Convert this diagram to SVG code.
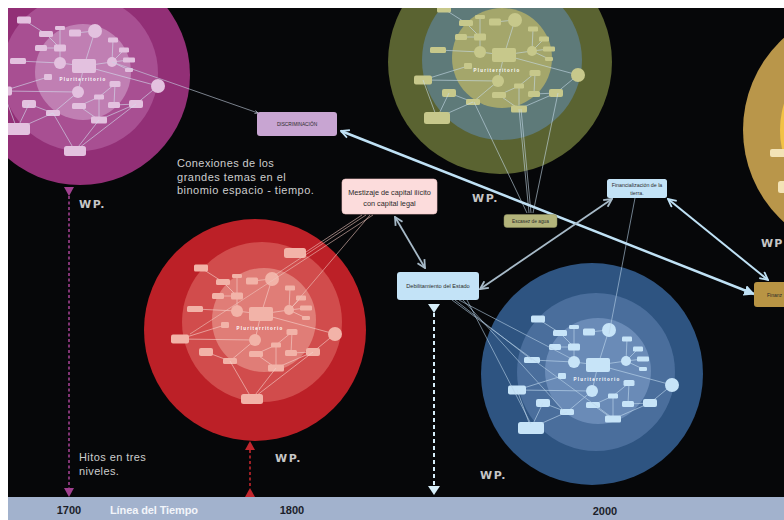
<svg xmlns="http://www.w3.org/2000/svg" width="784" height="520" viewBox="0 0 784 520">
<style>
.wp{font-family:"DejaVu Sans","Liberation Sans",sans-serif;font-weight:bold;font-size:11px;fill:#c6c6c6;letter-spacing:1.5px}
.note{font-family:"Liberation Sans",Arial,sans-serif;font-size:11px;fill:#cdcdcd;letter-spacing:1.2px}
.plu{font-family:"Liberation Sans",Arial,sans-serif;font-weight:bold;font-size:4.5px;fill:#ffffff;letter-spacing:1.2px}
.bx{font-family:"Liberation Sans",Arial,sans-serif;fill:#2b2b2b;text-anchor:middle}
.yr{font-family:"Liberation Sans",Arial,sans-serif;font-weight:bold;font-size:11px;text-anchor:middle}
.thin{fill:none;stroke-width:0.6}
</style>
<defs>
<clipPath id="stage"><rect x="8" y="8" width="776" height="489"/></clipPath>
<marker id="chevL" viewBox="0 0 10 10" refX="9" refY="5" markerWidth="10" markerHeight="10" markerUnits="userSpaceOnUse" orient="auto-start-reverse"><path d="M1,1 L9,5 L1,9" fill="none" stroke="#bfe1f5" stroke-width="1.8"/></marker>
<marker id="chevG" viewBox="0 0 10 10" refX="9" refY="5" markerWidth="10" markerHeight="10" markerUnits="userSpaceOnUse" orient="auto-start-reverse"><path d="M1,1 L9,5 L1,9" fill="none" stroke="#a7bac8" stroke-width="1.8"/></marker>
<marker id="triL" viewBox="0 0 10 10" refX="9" refY="5" markerWidth="11" markerHeight="11" markerUnits="userSpaceOnUse" orient="auto"><path d="M0,0 L10,5 L0,10 Z" fill="#bfe1f5"/></marker>
<marker id="tiny" viewBox="0 0 10 10" refX="9" refY="5" markerWidth="4" markerHeight="4" markerUnits="userSpaceOnUse" orient="auto"><path d="M1,1 L9,5 L1,9" fill="none" stroke="#d0dcea" stroke-width="1.5"/></marker>
<g id="map">
 <path fill="none" stroke-width="0.6" d="M-60,-52L-38,-38M-24,-44L-24,-24M-24,-24L-38,-38M-24,-24L-43,-24M-24,-24L-24,-9M-9,-39L11,-41M11,-41L0,-6M0,-6L28,-10M28,-10L29,-32M28,-10L40,-22M28,-10L45,-12M28,-10L45,-2M-24,-9L-66,-11M-24,-9L0,-6M0,-6L74,14M0,-6L-6,20M-6,20L-81,19M-6,20L-31,41M-36,5L-81,19M74,14L52,32M52,32L30,33M30,33L31,12M31,12L15,25M15,25L-5,34M15,25L15,48M-5,34L15,48M52,32L15,48M-55,32L-31,41"/>
 <g stroke="none">
  <rect x="-67" y="-55.5" width="14" height="7" rx="1.5"/>
  <rect x="-45" y="-41" width="14" height="6" rx="1.5"/>
  <rect x="-29" y="-46" width="10" height="4" rx="1.2"/>
  <rect x="-15" y="-42.5" width="12" height="7" rx="1.5"/>
  <circle cx="11" cy="-41" r="7"/>
  <rect x="-49" y="-27" width="12" height="6" rx="1.5"/>
  <rect x="-30" y="-27.5" width="12" height="7" rx="1.5"/>
  <rect x="24" y="-34.5" width="10" height="5" rx="1.2"/>
  <rect x="35" y="-24.5" width="10" height="5" rx="1.2"/>
  <rect x="39" y="-14.5" width="12" height="5" rx="1.2"/>
  <rect x="41" y="-4" width="8" height="4" rx="1.2"/>
  <circle cx="28" cy="-10" r="5"/>
  <rect x="-12" y="-13" width="24" height="14" rx="2"/>
  <circle cx="-24" cy="-9" r="6"/>
  <rect x="-74" y="-14" width="16" height="6" rx="1.5"/>
  <rect x="-40" y="2" width="8" height="6" rx="1.2"/>
  <circle cx="-6" cy="20" r="6"/>
  <circle cx="74" cy="14" r="7"/>
  <rect x="25.5" y="9" width="11" height="6" rx="1.5"/>
  <rect x="10" y="22.5" width="10" height="5" rx="1.2"/>
  <rect x="-12" y="31" width="14" height="6" rx="1.5"/>
  <rect x="24" y="30" width="12" height="6" rx="1.5"/>
  <rect x="45" y="28" width="14" height="8" rx="2"/>
  <rect x="7" y="44.5" width="16" height="7" rx="1.5"/>
  <rect x="-62" y="28" width="14" height="8" rx="2"/>
  <rect x="-38" y="38" width="14" height="6" rx="1.5"/>
  <rect x="-90" y="14.5" width="18" height="9" rx="2"/>
 </g>
</g>
<g id="mest">
 <path fill="none" stroke-width="0.6" d="M-81,19L-67,57M-55,32L-67,57M-31,41L-67,57"/>
 <rect x="-80" y="51" width="26" height="12" rx="2.5" stroke="none"/>
</g>
<g id="deb">
 <path fill="none" stroke-width="0.6" d="M-31,41L-9,79M15,48L-9,79M52,32L-9,79"/>
 <rect x="-20" y="74" width="22" height="10" rx="2.5" stroke="none"/>
</g>
</defs>

<rect x="0" y="0" width="784" height="520" fill="#ffffff"/>
<rect x="8" y="8" width="776" height="489" fill="#060709"/>

<g id="map-magenta" clip-path="url(#stage)">
 <circle cx="80" cy="75" r="110" fill="#922f76"/>
 <circle cx="80" cy="73" r="78" fill="#a84f92"/>
 <circle cx="83" cy="72" r="48" fill="#c07fb3"/>
 <use href="#map" x="84" y="72" fill="#e3c1df" stroke="#d3dfee"/>
 <use href="#mest" x="84" y="72" fill="#e3c1df" stroke="#d3dfee"/>
 <use href="#deb" x="84" y="72" fill="#e3c1df" stroke="#d3dfee"/>
 <text class="plu" x="83" y="81" text-anchor="middle">Pluriterritorio</text>
</g>

<g id="map-olive" clip-path="url(#stage)">
 <circle cx="500" cy="62" r="112" fill="#5a6331"/>
 <circle cx="502" cy="60" r="80" fill="#5e7a79"/>
 <circle cx="502" cy="58" r="50" fill="#a4a66b"/>
 <use href="#map" x="504" y="61" fill="#c7c88b" stroke="#c8dcea"/>
 <use href="#mest" x="504" y="61" fill="#c7c88b" stroke="#c8dcea"/>
 <text class="plu" x="497" y="72" text-anchor="middle">Pluriterritorio</text>
</g>

<g id="map-red" clip-path="url(#stage)">
 <circle cx="255" cy="330" r="111" fill="#bc2027"/>
 <circle cx="262" cy="322" r="80" fill="#d14c4c"/>
 <circle cx="264" cy="320" r="52" fill="#e07d77"/>
 <use href="#map" x="261" y="320" fill="#f2b3a8" stroke="#f7d3cd"/>
 <use href="#deb" x="261" y="320" fill="#f2b3a8" stroke="#f7d3cd"/>
 <rect x="284" y="248" width="22" height="10" rx="2.5" fill="#f2b3a8"/>
 <text class="plu" x="260" y="330" text-anchor="middle">Pluriterritorio</text>
</g>

<g id="map-blue" clip-path="url(#stage)">
 <circle cx="592" cy="374" r="111" fill="#2e5481"/>
 <circle cx="596" cy="372" r="79" fill="#4a6e9c"/>
 <circle cx="598" cy="371" r="53" fill="#6a8bb7"/>
 <use href="#map" x="598" y="371" fill="#c7e4f8" stroke="#c2dcf0"/>
 <use href="#mest" x="598" y="371" fill="#c7e4f8" stroke="#c2dcf0"/>
 <text class="plu" x="597" y="381" text-anchor="middle">Pluriterritorio</text>
</g>

<g id="map-gold" clip-path="url(#stage)">
 <circle cx="867" cy="130" r="124" fill="#b9964a"/>
 <circle cx="869" cy="130" r="89" fill="#f2c245"/>
 <rect x="770" y="149" width="16" height="8" rx="2" fill="#f3e3b6"/>
 <rect x="778" y="181" width="14" height="12" rx="2.5" fill="#f3e3b6"/>
</g>

<g id="connectors">
 <path d="M341,131 L754,294" stroke="#bfe1f5" stroke-width="2.5" fill="none" marker-start="url(#chevL)" marker-end="url(#triL)"/>
 <path d="M668,199 L768,280" stroke="#bfe1f5" stroke-width="2" fill="none" marker-start="url(#chevL)" marker-end="url(#chevL)"/>
 <path d="M480,289 L612,199" stroke="#a7bac8" stroke-width="1.8" fill="none" marker-start="url(#chevG)" marker-end="url(#chevG)"/>
 <path d="M395,217 L425,268" stroke="#a7bac8" stroke-width="1.8" fill="none" marker-start="url(#chevG)" marker-end="url(#chevG)"/>
 <path class="thin" d="M112,62 L258,113" stroke="#c8d4e4" marker-end="url(#tiny)"/>
 <path class="thin" stroke="#f0c6be" d="M362,215 L306,252 M366,215 L275,275 M370,215 L292,307 M373,215 L190,334"/>
 <path class="thin" stroke="#c6dae8" d="M474,102 L527,213 M519,109 L529,213 M521,109 L531,213 M558,93 L533,213"/>
 <path class="thin" stroke="#b8d2e8" d="M455,300 L532,360 M459,300 L570,358 M463,300 L563,410 M467,300 L531,424 M452,300 L610,416"/>
 <path class="thin" stroke="#b8d2e8" d="M609,334 L635,198"/>
 <path d="M69,196 V488" stroke="#a0408f" stroke-width="1.6" stroke-dasharray="3 2.5" fill="none"/>
 <polygon points="64,187 74,187 69,196" fill="#a0408f"/>
 <polygon points="64,488 74,488 69,497" fill="#a0408f"/>
 <path d="M250,450 V488" stroke="#c2262d" stroke-width="1.6" stroke-dasharray="3 2.5" fill="none"/>
 <polygon points="245,450 255,450 250,441" fill="#c2262d"/>
 <polygon points="245,497 255,497 250,488" fill="#c2262d"/>
 <path d="M434,313 V486" stroke="#d6eefa" stroke-width="2" stroke-dasharray="4 3" fill="none"/>
 <polygon points="428,304 440,304 434,313" fill="#d6eefa"/>
 <polygon points="428,486 440,486 434,495" fill="#d6eefa"/>
</g>

<g id="node-discriminacion">
 <rect x="257" y="112" width="80" height="24" rx="3" fill="#c8a5d2"/>
 <text class="bx" x="297" y="125.8" font-size="4.8">DISCRIMINACIÓN</text>
</g>
<g id="node-mestizaje">
 <rect x="342" y="179" width="95" height="35" rx="3.5" fill="#fcdcdc" stroke="#f3c7c7" stroke-width="0.6"/>
 <text class="bx" x="389.5" y="194.5" font-size="7.3">Mestizaje de capital ilícito</text>
 <text class="bx" x="389.5" y="205.5" font-size="7.3">con capital legal</text>
</g>
<g id="node-debilitamiento">
 <rect x="397" y="272" width="82" height="28" rx="3" fill="#c3e3f7"/>
 <text class="bx" x="438" y="288" font-size="5.6">Debilitamiento del Estado</text>
</g>
<g id="node-financializacion">
 <rect x="607" y="179" width="60" height="19" rx="2.5" fill="#c3e3f7"/>
 <text class="bx" x="637" y="187" font-size="5.3">Financialización de la</text>
 <text class="bx" x="637" y="195" font-size="5.3">tierra.</text>
</g>
<g id="node-escasez">
 <rect x="504" y="214.5" width="53" height="13" rx="3" fill="#b3b47b" stroke="#8f9060" stroke-width="0.5"/>
 <text class="bx" x="530.5" y="222.8" font-size="4.8">Escasez de agua</text>
</g>
<g id="node-finanz">
 <rect x="754" y="282" width="40" height="25" rx="3" fill="#b89444"/>
 <text class="bx" x="767" y="297" font-size="5" style="text-anchor:start">Finanz</text>
</g>

<g id="labels">
 <text class="note" x="177" y="167" textLength="98">Conexiones de los</text>
 <text class="note" x="177" y="180.5" textLength="110">grandes temas en el</text>
 <text class="note" x="177" y="194" textLength="138">binomio espacio - tiempo.</text>
 <text class="note" x="79" y="461" textLength="68">Hitos en tres</text>
 <text class="note" x="79" y="475" textLength="41">niveles.</text>
 <text class="wp" x="79" y="208">WP.</text>
 <text class="wp" x="472" y="202">WP.</text>
 <text class="wp" x="275" y="462">WP.</text>
 <text class="wp" x="480" y="479">WP.</text>
 <text class="wp" x="761" y="247" style="letter-spacing:1px">WP</text>
</g>

<g id="timeline">
 <rect x="8" y="497" width="776" height="23" fill="#a2b2cd"/>
 <text class="yr" x="69" y="514" fill="#1c1e2a">1700</text>
 <text class="yr" x="154" y="514" fill="#f2f5fa" textLength="88">Línea del Tiempo</text>
 <text class="yr" x="292" y="514" fill="#1c1e2a">1800</text>
 <text class="yr" x="605" y="515" fill="#1c1e2a">2000</text>
</g>
</svg>
